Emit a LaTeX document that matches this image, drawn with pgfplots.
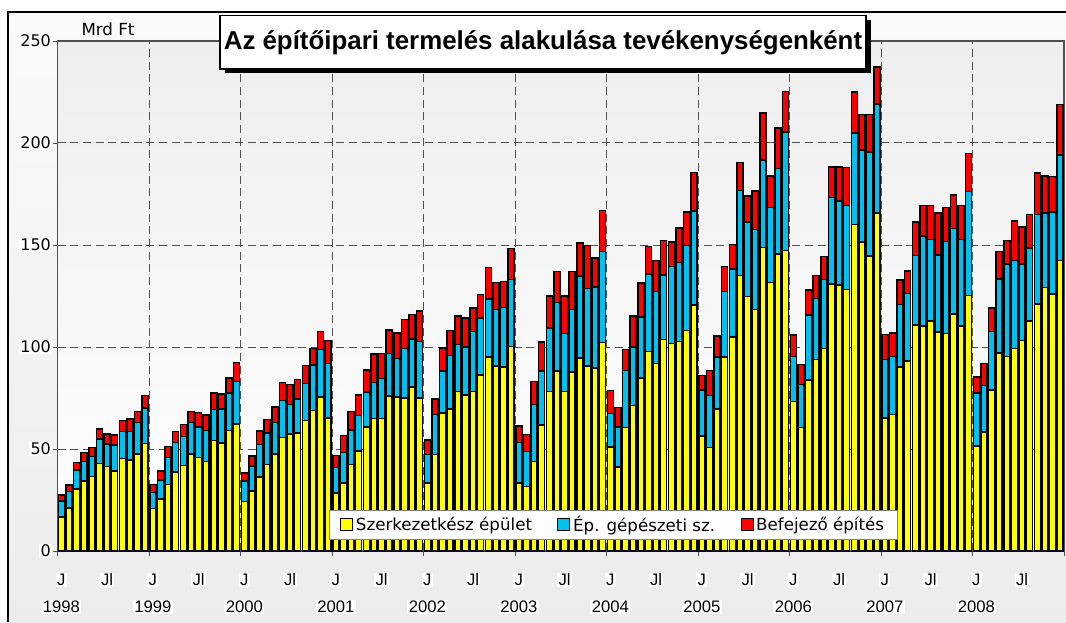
\documentclass[border=0pt]{standalone}
\usepackage{pgfplots}
\pgfplotsset{compat=1.18}
\usepackage{pgfplotstable}
\usepackage{fontspec}
\setmainfont{DejaVu Sans}
\newfontfamily\lib{Liberation Sans}
\definecolor{byellow}{RGB}{255,255,0}
\definecolor{bcyan}{RGB}{0,192,240}
\definecolor{bred}{RGB}{255,0,0}
\definecolor{gridc}{RGB}{80,80,80}
\definecolor{plottop}{RGB}{238,238,238}
\definecolor{frametop}{RGB}{250,250,250}
\definecolor{framebot}{RGB}{236,236,236}

\pgfplotstableread{
x y b r
0.5 16.7 7.9 2.8
1.5 21.0 8.2 3.1
2.5 30.3 9.5 3.6
3.5 34.4 9.5 4.5
4.5 36.4 10.0 4.4
5.5 42.9 12.0 4.9
6.5 41.5 11.0 4.9
7.5 39.3 12.7 4.9
8.5 45.4 13.1 5.4
9.5 44.6 14.1 6.1
10.5 47.5 15.6 5.4
11.5 52.8 17.2 6.2
12.5 20.8 7.9 3.8
13.5 25.4 9.4 4.5
14.5 32.5 13.4 5.4
15.5 38.7 14.4 5.4
16.5 42.0 14.1 5.9
17.5 47.5 15.6 5.4
18.5 45.9 14.8 7.3
19.5 43.8 15.2 7.7
20.5 54.1 15.2 8.2
21.5 53.0 16.7 7.3
22.5 59.0 18.5 7.3
23.5 62.3 20.8 9.2
24.5 24.3 10.0 4.0
25.5 29.4 12.2 4.9
26.5 36.3 15.8 6.8
27.5 42.4 15.4 6.6
28.5 47.5 15.5 7.6
29.5 55.6 18.2 8.7
30.5 57.4 14.5 9.6
31.5 57.8 16.8 9.4
32.5 63.9 18.3 8.7
33.5 69.0 22.1 8.1
34.5 75.6 23.1 8.9
35.5 65.2 26.7 11.2
36.5 28.5 12.4 5.8
37.5 33.3 15.0 8.3
38.5 42.4 17.0 8.9
39.5 49.0 17.5 9.9
40.5 60.7 17.2 10.9
41.5 64.9 17.6 14.0
42.5 64.9 19.6 12.4
43.5 75.9 21.0 11.5
44.5 75.4 19.0 12.4
45.5 75.1 24.2 14.1
46.5 80.5 23.5 12.0
47.5 75.1 27.7 14.9
48.5 33.4 14.0 7.0
49.5 47.4 19.4 7.7
50.5 67.6 20.6 11.3
51.5 69.6 26.3 12.2
52.5 78.3 22.9 13.9
53.5 76.5 23.5 14.3
54.5 78.3 29.4 11.5
55.5 86.3 28.0 11.5
56.5 95.1 28.4 15.5
57.5 90.6 27.8 13.3
58.5 90.1 29.3 12.7
59.5 100.3 32.9 15.0
60.5 33.4 19.7 8.2
61.5 31.7 17.0 8.5
62.5 43.8 27.9 11.4
63.5 61.8 26.4 14.3
64.5 78.3 31.1 15.6
65.5 88.2 33.5 15.3
66.5 78.1 28.5 18.4
67.5 87.7 30.7 18.6
68.5 94.7 40.2 16.1
69.5 90.6 38.2 20.9
70.5 89.6 39.7 14.3
71.5 102.1 44.8 20.0
72.5 51.0 16.4 11.2
73.5 41.1 19.8 9.5
74.5 60.5 28.0 10.3
75.5 71.2 28.8 15.3
76.5 84.7 30.1 16.5
77.5 97.9 37.8 13.6
78.5 91.8 35.3 15.2
79.5 103.8 31.6 16.7
80.5 101.6 37.9 12.0
81.5 102.8 38.6 17.0
82.5 108.2 41.6 16.3
83.5 120.6 46.0 18.9
84.5 56.4 22.5 7.1
85.5 50.7 25.5 12.3
86.5 69.6 25.5 10.3
87.5 95.1 32.0 12.4
88.5 104.9 33.4 11.9
89.5 135.0 41.8 13.7
90.5 124.7 36.5 12.8
91.5 118.4 39.2 18.9
92.5 148.8 42.8 23.0
93.5 131.7 36.6 15.6
94.5 145.6 41.9 19.9
95.5 147.2 58.1 20.0
96.5 73.2 22.2 10.4
97.5 60.5 21.1 9.7
98.5 83.9 31.7 12.4
99.5 93.8 30.0 11.2
100.5 99.2 34.0 11.2
101.5 130.9 42.3 15.1
102.5 130.4 41.1 16.8
103.5 128.3 41.1 18.6
104.5 160.0 44.8 20.2
105.5 151.5 45.0 17.5
106.5 144.7 51.0 18.3
107.5 165.8 53.4 18.1
108.5 65.1 28.7 12.3
109.5 66.8 28.6 11.5
110.5 90.1 30.8 12.0
111.5 93.1 33.2 11.0
112.5 110.7 34.2 16.3
113.5 110.2 44.1 15.1
114.5 112.7 39.9 16.8
115.5 107.4 37.8 20.6
116.5 106.6 45.2 16.5
117.5 116.1 42.0 16.4
118.5 110.4 42.2 16.8
119.5 125.2 51.0 18.7
120.5 51.5 26.0 7.7
121.5 58.4 22.7 10.7
122.5 78.9 28.8 11.5
123.5 97.0 36.4 13.5
124.5 95.4 45.2 11.5
125.5 99.2 43.1 19.4
126.5 103.3 37.3 18.3
127.5 112.8 35.7 16.5
128.5 121.1 43.9 20.2
129.5 129.1 36.7 18.1
130.5 126.0 40.1 17.5
131.5 142.4 51.8 24.7
}\data

\pgfplotsset{sq legend/.style={legend image code/.code={\draw[##1,line width=0.8pt] (0pt,-4.5pt) rectangle (9pt,4.5pt);}}}

\begin{document}
\begin{tikzpicture}
\path[use as bounding box] (0,0) rectangle (799.5pt,466.5pt);
\fill[white] (0,0) rectangle (799.5pt,466.5pt);
\shade[top color=frametop, bottom color=framebot] (6pt,0) rectangle (799.5pt,457.5pt);
\draw[black, line width=0.8pt] (6pt,0) -- (6pt,457.5pt) -- (799.5pt,457.5pt);
\begin{axis}[
  at={(43.125pt,53.25pt)}, anchor=south west,
  scale only axis, width=754.875pt, height=382.5pt,
  xmin=0, xmax=132, ymin=0, ymax=250,
  clip=false,
  ybar stacked, bar width=0.78,
  axis background/.style={top color=plottop, bottom color=white},
  axis line style={gridc, line width=0.9pt},
  tick align=outside, major tick length=3.75pt,
  tick style={gridc, line width=0.7pt},
  xtick pos=bottom, ytick pos=left,
  xtick={0,12,...,132}, xticklabels={},
  xmajorgrids, ymajorgrids,
  grid style={gridc, dash pattern=on 6pt off 3.5pt, line width=0.75pt},
  ytick={0,50,...,250},
  /pgf/number format/assume math mode=true,
  yticklabel style={font=\fontsize{12}{14}\selectfont, fill=white, inner sep=1pt},
  extra x ticks={0.5,6.5,...,126.5},
  extra x tick labels={J,Jl,J,Jl,J,Jl,J,Jl,J,Jl,J,Jl,J,Jl,J,Jl,J,Jl,J,Jl,J,Jl},
  extra x tick style={grid=none, major tick length=0pt, tick style={draw=none},
     xticklabel style={font=\lib\fontsize{12.5}{14}\selectfont, fill=white, inner sep=1pt, anchor=center, yshift=-21.75pt}},
  legend style={at={(axis description cs:0.5524,0.0216)}, anchor=south,
     legend columns=3, draw=gray, fill=white, line width=0.6pt,
     font=\fontsize{12.5}{14}\selectfont, inner xsep=8pt, inner ysep=2.5pt,
     /tikz/every even column/.append style={column sep=17pt},
     nodes={inner xsep=2pt}},
]
\addplot[fill=byellow, draw=black, line width=1.1pt, sq legend] table[x=x,y=y]{\data};
\addlegendentry{Szerkezetkész épület}
\addplot[fill=bcyan, draw=black, line width=1.1pt, sq legend] table[x=x,y=b]{\data};
\addlegendentry{Ép. gépészeti sz.}
\addplot[fill=bred, draw=black, line width=1.1pt, sq legend] table[x=x,y=r]{\data};
\addlegendentry{Befejező építés}
\node[font=\lib\fontsize{12.5}{14}\selectfont, fill=white, inner sep=1pt, yshift=-42pt] at (axis cs:0.5,0) {1998};
\node[font=\lib\fontsize{12.5}{14}\selectfont, fill=white, inner sep=1pt, yshift=-42pt] at (axis cs:12.5,0) {1999};
\node[font=\lib\fontsize{12.5}{14}\selectfont, fill=white, inner sep=1pt, yshift=-42pt] at (axis cs:24.5,0) {2000};
\node[font=\lib\fontsize{12.5}{14}\selectfont, fill=white, inner sep=1pt, yshift=-42pt] at (axis cs:36.5,0) {2001};
\node[font=\lib\fontsize{12.5}{14}\selectfont, fill=white, inner sep=1pt, yshift=-42pt] at (axis cs:48.5,0) {2002};
\node[font=\lib\fontsize{12.5}{14}\selectfont, fill=white, inner sep=1pt, yshift=-42pt] at (axis cs:60.5,0) {2003};
\node[font=\lib\fontsize{12.5}{14}\selectfont, fill=white, inner sep=1pt, yshift=-42pt] at (axis cs:72.5,0) {2004};
\node[font=\lib\fontsize{12.5}{14}\selectfont, fill=white, inner sep=1pt, yshift=-42pt] at (axis cs:84.5,0) {2005};
\node[font=\lib\fontsize{12.5}{14}\selectfont, fill=white, inner sep=1pt, yshift=-42pt] at (axis cs:96.5,0) {2006};
\node[font=\lib\fontsize{12.5}{14}\selectfont, fill=white, inner sep=1pt, yshift=-42pt] at (axis cs:108.5,0) {2007};
\node[font=\lib\fontsize{12.5}{14}\selectfont, fill=white, inner sep=1pt, yshift=-42pt] at (axis cs:120.5,0) {2008};
\end{axis}
\fill[black] (168.4pt,411.4pt) rectangle (652.9pt,451.5pt);
\draw[fill=white, line width=1pt] (165pt,414.75pt) rectangle (649.5pt,454.9pt);
\node[font=\lib\bfseries\fontsize{19.4}{22}\selectfont] at (407.25pt,434.8pt) {Az építőipari termelés alakulása tevékenységenként};
\node[font=\fontsize{12.5}{14}\selectfont] at (81pt,444.75pt) {Mrd Ft};
\end{tikzpicture}
\end{document}
